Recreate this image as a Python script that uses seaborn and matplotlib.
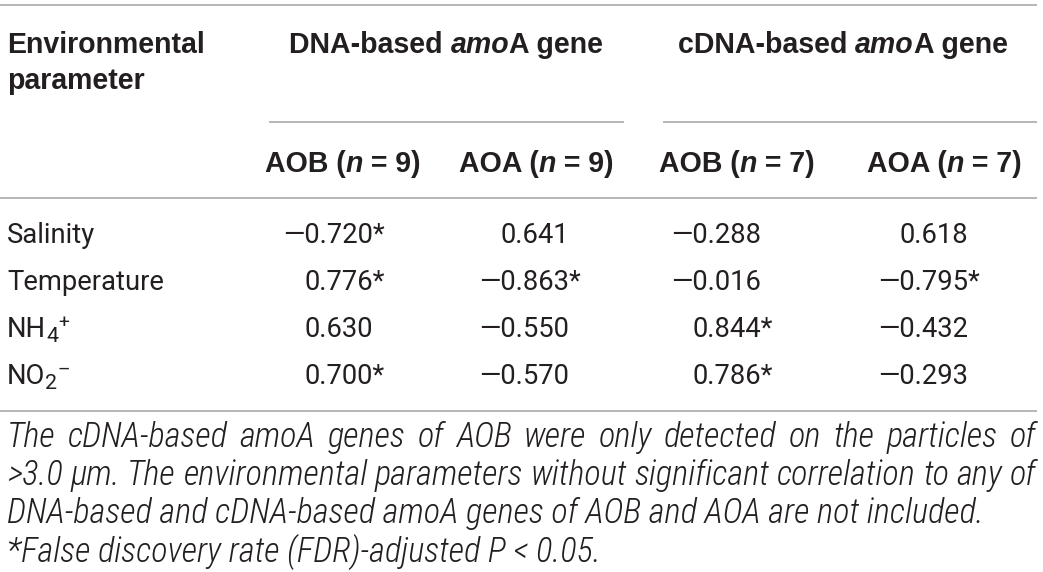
import matplotlib
matplotlib.use('Agg')
import matplotlib.pyplot as plt
import seaborn as sns
from matplotlib import font_manager

# table content
param_base = ['Salinity', 'Temperature', 'NH', 'NO']
param_sub = ['', '', '4', '2']
param_sup = ['', '', '+', '\u2013']

group_titles = ['DNA-based', 'cDNA-based']
sub_titles = ['AOB', 'AOA', 'AOB', 'AOA']
sample_n = [9, 9, 7, 7]

dna_aob = [-0.720, 0.776, 0.630, 0.700]
dna_aob_sig = [True, True, False, True]
dna_aoa = [0.641, -0.863, -0.550, -0.570]
dna_aoa_sig = [False, True, False, False]
cdna_aob = [-0.288, -0.016, 0.844, 0.786]
cdna_aob_sig = [False, False, True, True]
cdna_aoa = [0.618, -0.795, -0.432, -0.293]
cdna_aoa_sig = [False, True, False, False]

notes = [
    'The cDNA-based amoA genes of AOB were only detected on the particles of',
    '>3.0 \u03bcm. The environmental parameters without significant correlation to any of',
    'DNA-based and cDNA-based amoA genes of AOB and AOA are not included.',
    '*False discovery rate (FDR)-adjusted P < 0.05.',
]

sns.set_theme(style='white')

installed = {f.name for f in font_manager.fontManager.ttflist}


def pick(cands, default):
    for c in cands:
        if c in installed:
            return c
    return default


BODY = pick(['Roboto', 'Liberation Sans'], 'DejaVu Sans')
HEAD = pick(['Liberation Sans', 'Roboto'], 'DejaVu Sans')
NOTE = pick(['Roboto Condensed', 'Liberation Sans Narrow'], BODY)

INK = '#231f20'
RULE = '#a3a3a3'

fig = plt.figure(figsize=(10.43, 5.72), dpi=100)
ax = fig.add_axes([0, 0, 1, 1])
ax.set_xlim(0, 1043)
ax.set_ylim(572, 0)
ax.axis('off')
renderer = fig.canvas.get_renderer()


def width(s, **kw):
    # measure with a bar appended so trailing spaces count
    t = ax.text(0, 0, s + '|', **kw)
    w1 = t.get_window_extent(renderer).width
    t.remove()
    t = ax.text(0, 0, '|', **kw)
    w2 = t.get_window_extent(renderer).width
    t.remove()
    return w1 - w2


def runs(x, y, parts, ha='left'):
    ws = [width(s, **kw) for s, kw, dy in parts]
    if ha == 'center':
        x -= sum(ws) / 2
    for (s, kw, dy), w in zip(parts, ws):
        ax.text(x, y + dy, s, va='baseline', ha='left', color=INK, **kw)
        x += w


# font sizes fitted to the reference widths
body_kw = dict(family=[BODY, 'DejaVu Sans'], fontweight='normal')
head_kw = dict(family=[HEAD, 'DejaVu Sans'], fontweight='bold')
note_kw = dict(family=[NOTE, 'DejaVu Sans'], fontweight='light', fontstyle='italic')
body_kw['fontsize'] = 10 * 157 / width('Temperature', fontsize=10, **body_kw)
head_kw['fontsize'] = 10 * 198 / width('Environmental', fontsize=10, **head_kw)
note_kw['fontsize'] = 10 * 978 / width(notes[2], fontsize=10, **note_kw)
bold_it = dict(head_kw, fontstyle='italic')
body_small = dict(body_kw, fontsize=body_kw['fontsize'] * 0.78)

# rules
for y, x0, x1 in [(5, 0, 1037), (122, 269, 624), (122, 663, 1037), (198, 0, 1037), (411, 0, 1037)]:
    ax.plot([x0, x1], [y, y], color=RULE, lw=1.1, solid_capstyle='butt')

# header
runs(7, 53, [('Environmental', head_kw, 0)])
runs(7, 89, [('parameter', head_kw, 0)])
for title, cx in zip(group_titles, [446, 843]):
    runs(cx, 53, [(title + ' ', head_kw, 0), ('amo', bold_it, 0), ('A gene', head_kw, 0)], ha='center')
for name, n, cx in zip(sub_titles, sample_n, [343, 536, 737, 944]):
    runs(cx, 172, [(name + ' (', head_kw, 0), ('n', bold_it, 0), (f' = {n})', head_kw, 0)], ha='center')

# body rows
row_y = [243, 290, 337, 384]
for base, sub, sup, y in zip(param_base, param_sub, param_sup, row_y):
    parts = [(base, body_kw, 0)]
    if sub:
        parts.append((sub, body_small, 5))
        parts.append((sup, dict(body_small, fontsize=body_small['fontsize'] * 0.9), -9))
    runs(7, y, parts)

columns = [(dna_aob, dna_aob_sig), (dna_aoa, dna_aoa_sig),
           (cdna_aob, cdna_aob_sig), (cdna_aoa, cdna_aoa_sig)]
dot_x = [320, 516, 708, 915]
for (vals, sig), dx in zip(columns, dot_x):
    for v, s, y in zip(vals, sig, row_y):
        txt = f'{v:.3f}'.replace('-', '\u2014') + ('*' if s else '')
        lead = txt.split('.')[0]
        runs(dx - width(lead, **body_kw), y, [(txt, body_kw, 0)])

# footnote, first two lines justified
note_y = [447, 485, 523, 562]
for i, (line, y) in enumerate(zip(notes, note_y)):
    if i < 2:
        words = line.split(' ')
        ws = [width(w, **note_kw) for w in words]
        gap = (1036 - 7 - sum(ws)) / (len(words) - 1)
        x = 7
        for w, wd in zip(words, ws):
            ax.text(x, y, w, va='baseline', ha='left', color=INK, **note_kw)
            x += wd + gap
    else:
        runs(7, y, [(line, note_kw, 0)])

fig.savefig('out.png', dpi=100, facecolor='white')
